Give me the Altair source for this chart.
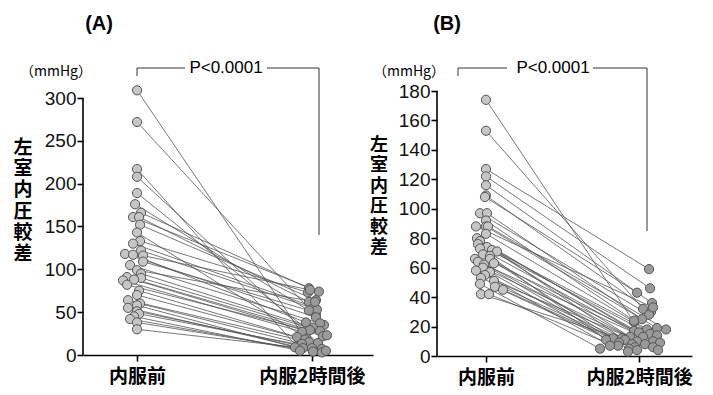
import altair as alt
import pandas as pd

# ---------------- Panel A data ----------------
a_before = [309, 272, 217, 208, 189, 176, 166, 161, 161, 152,
            143, 133, 130, 122, 118, 117, 116, 109, 105, 99,
            95, 91, 90, 88, 87, 82, 75, 70, 64, 60,
            58, 55, 51, 48, 45, 42, 38, 30]
a_after = [25, 35, 10, 14, 30, 47, 78, 74, 62, 64,
           20, 73, 56, 53, 44, 38, 76, 52, 37, 62,
           32, 29, 28, 22, 27, 23, 21, 18, 15, 13,
           9, 8, 8, 7, 5, 4, 3, 5]
a_jitter_before = [0, 0, 0, 0, 0, -2, 4, -4, 2, 3,
                   0, 3, -4, 4, -12, -4, 6, 6, -7, 0,
                   4, -10, 4, -3, -14, -10, 2, 0, -9, 3,
                   0, -9, 0, 2, -3, -7, 0, 0]
a_jitter_after = [-10, 12, -15, 6, -5, 4, -3, 7, -3, 4,
                  -6, -4, 2, 5, 4, -6, -2, -3, 8, 3,
                  1, -2, 8, 11, -10, 15, -15, -7, -3, -10,
                  -17, -9, 0, 10, -12, 1, 10, 14]

# ---------------- Panel B data ----------------
b_before = [174, 153, 127, 122, 116, 109, 108, 97, 97, 92,
            88, 88, 88, 83, 80, 78, 76, 74, 73, 72,
            71, 69, 68, 66, 66, 64, 63, 62, 60, 58,
            57, 55, 53, 51, 49, 47, 45, 42, 42]
b_after = [23, 32, 59, 46, 36, 30, 43, 28, 25, 24,
           33, 19, 18, 18, 17, 16, 15, 14, 13, 13,
           12, 12, 11, 11, 10, 10, 9, 9, 8, 8,
           7, 7, 6, 6, 5, 5, 4, 4, 3]
b_jitter_before = [0, 0, 0, 0, 0, 0, -1, -6, 1, 0,
                   -10, 0, 2, 0, -9, -6, -8, 1, -6, 6,
                   11, -3, 4, -11, 4, -8, 8, -2, -3, -10,
                   4, -1, -5, 8, -6, 9, 17, -5, 3]
b_jitter_after = [-5, 4, 10, 11, 13, 12, -2, 10, 3, -5,
                  14, 18, 27, 8, -5, 0, 11, 18, 4, -9,
                  -17, -26, -33, -14, -2, 14, 21, -20, 6, -7,
                  -21, -29, -4, 14, -39, -10, -2, 19, -11]

categories = ["内服前", "内服2時間後"]
y_title_chars = ["左", "室", "内", "圧", "較", "差"]
unit_label = "（mmHg）"
p_label = "P<0.0001"

JP = "Noto Sans CJK JP"
NUM = "Liberation Sans"


def make_df(before, after, jb, ja, px_per_unit):
    rows = []
    for i, (b, a, j1, j2) in enumerate(zip(before, after, jb, ja)):
        rows.append({"id": i, "phase": "before", "value": b, "pos": 0 + j1 / px_per_unit})
        rows.append({"id": i, "phase": "after", "value": a, "pos": 1 + j2 / px_per_unit})
    return pd.DataFrame(rows)


one = pd.DataFrame({"k": [0]})


def txt(text, x, y, size, weight="normal", font=JP, **kw):
    return alt.Chart(one).mark_text(
        text=text, fontSize=size, fontWeight=weight, font=font,
        color="black", align="center", baseline="middle", **kw
    ).encode(x=alt.value(x), y=alt.value(y))


def rule(x, x2, y, y2, color="#333", w=1):
    return alt.Chart(one).mark_rule(color=color, strokeWidth=w).encode(
        x=alt.value(x), x2=alt.value(x2), y=alt.value(y), y2=alt.value(y2))


def panel(df, width, height, xdom, ydom_max, ymax, ystep, after_fill,
          letter, letter_xy, unit_xy, title_x, title_y0, title_step, title_size,
          br_left, br_right, br_gap, br_bottom, p_x):
    xenc = alt.X("pos:Q",
                 scale=alt.Scale(domain=xdom, nice=False, zero=False),
                 axis=alt.Axis(values=[0, 1],
                               labelExpr=f"datum.value == 0 ? '{categories[0]}' : '{categories[1]}'",
                               title=None, grid=False, domain=True,
                               domainColor="black", domainWidth=1.6,
                               tickColor="black", tickWidth=1.6, tickSize=6,
                               labelFont=JP, labelFontWeight="bold", labelFontSize=19,
                               labelColor="black", labelPadding=6))
    yenc = alt.Y("value:Q",
                 scale=alt.Scale(domain=[0, ydom_max], nice=False, zero=True),
                 axis=alt.Axis(values=list(range(0, ymax + 1, ystep)),
                               title=None, grid=False, domain=False,
                               tickColor="black", tickWidth=1.6, tickSize=6,
                               labelFont=NUM, labelFontSize=19, labelColor="#111",
                               labelPadding=1, labelOverlap=False, labelBound=False,
                               labelFlush=False))
    base = alt.Chart(df)
    lines = base.mark_line(color="#555", strokeWidth=0.8).encode(
        x=xenc, y=yenc, detail="id:N")
    pts = base.mark_circle(size=85, stroke="#555", strokeWidth=1, opacity=1).encode(
        x=xenc, y=yenc,
        fill=alt.Fill("phase:N", scale=alt.Scale(domain=["before", "after"],
                                                  range=["#c6c6c6", after_fill]),
                      legend=None))
    # y axis line from 0 up to the top tick only
    top_px = height - ymax * height / ydom_max
    yline = rule(0, 0, top_px, height, color="black", w=1.6)

    title_layers = [txt(ch, title_x, title_y0 + k * title_step, title_size, "bold", JP)
                    for k, ch in enumerate(y_title_chars)]
    ann = [
        txt(letter, letter_xy[0], letter_xy[1], 20, "bold", NUM),
        txt(unit_label, unit_xy[0], unit_xy[1], 14),
        txt(p_label, p_x, -23, 17, "normal", NUM),
        rule(br_left, br_left, -23, -15),
        rule(br_left, br_gap[0], -23, -23),
        rule(br_gap[1], br_right, -23, -23),
        rule(br_right, br_right, -23, br_bottom),
    ] + title_layers
    return alt.layer(lines, pts, yline, *ann).properties(width=width, height=height)


dfA = make_df(a_before, a_after, a_jitter_before, a_jitter_after, 175)
dfB = make_df(b_before, b_after, b_jitter_before, b_jitter_after, 153)

chartA = panel(dfA, 290, 264, [-0.309, 1.349], 300 * 264 / 257, 300, 50, "#9a9a9a",
               "(A)", (16, -67), (-27, -19), -60, 57, 21.2, 19,
               54, 236, (102, 184), 144, 143)
chartB = panel(dfB, 255, 265, [-0.320, 1.346], 180, 180, 20, "#c6c6c6",
               "(B)", (10, -67), (-28, -19), -58, 55, 20.4, 18,
               21, 210, (70, 156), 140, 116)

chart = alt.hconcat(chartA, chartB, spacing=64, bounds="flush").properties(
    padding={"left": 13, "top": 14, "right": 0, "bottom": 0}
).configure_view(stroke=None)

chart.save("out.html", embed_options={"renderer": "svg", "actions": False})
